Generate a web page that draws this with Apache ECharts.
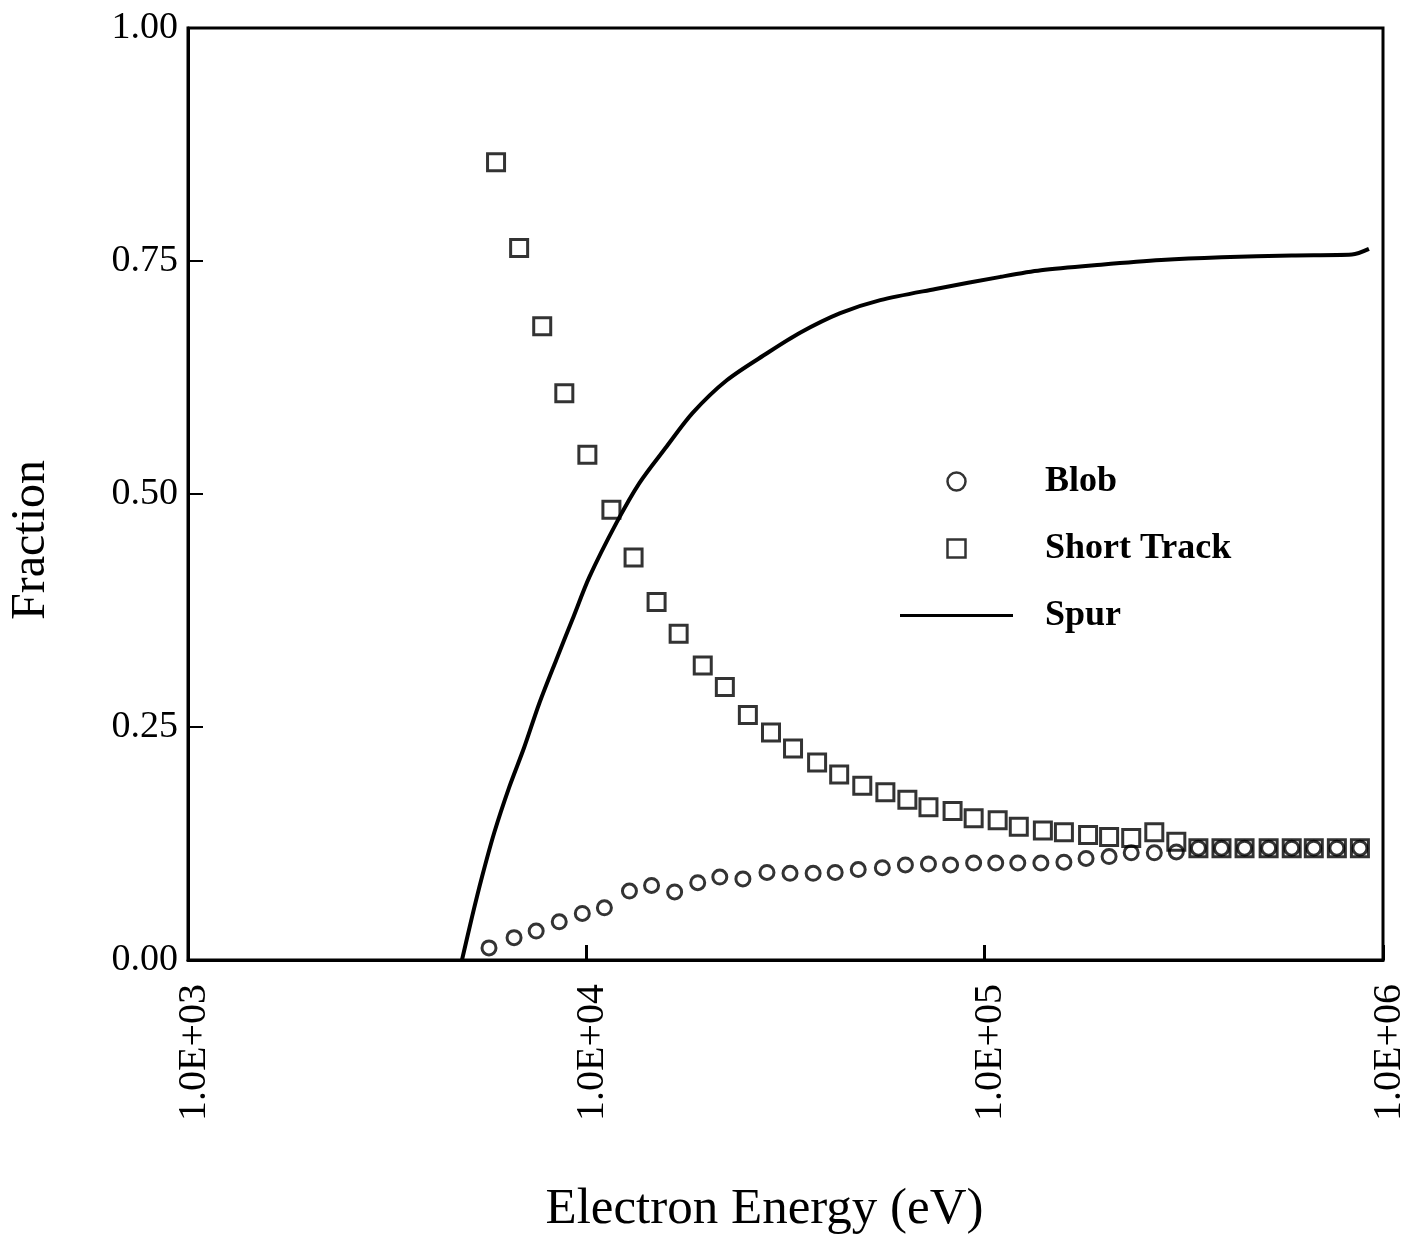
<!DOCTYPE html>
<html>
<head>
<meta charset="utf-8">
<script src="https://cdn.jsdelivr.net/npm/echarts@6/dist/echarts.min.js"></script>
<style>
  html, body { margin: 0; padding: 0; background: #fff; }
  #chart { width: 1409px; height: 1243px; }
</style>
</head>
<body>
<div id="chart"></div>
<script>
// electron energy (eV) for each plotted marker
const trackEnergy = [5934, 6781, 7749, 8805, 10060, 11560, 13140, 15010, 17050, 19600,
  22270, 25440, 29080, 33030, 37960, 43130, 49290, 56330, 63970, 72260,
  83070, 93830, 107800, 121800, 140000, 158100, 181800, 205300, 233300, 266600,
  302800, 344000, 393100, 449200, 516300, 590000, 670300, 765900, 875100]
const trackFraction = [0.856, 0.764, 0.680, 0.608, 0.542, 0.483, 0.432, 0.384, 0.350, 0.316,
  0.293, 0.263, 0.244, 0.227, 0.212, 0.199, 0.187, 0.180, 0.172, 0.164,
  0.160, 0.152, 0.150, 0.143, 0.139, 0.137, 0.134, 0.132, 0.131, 0.137,
  0.127, 0.120, 0.120, 0.120, 0.120, 0.120, 0.120, 0.120, 0.120]

const blobEnergy = [5697, 6585, 7483, 8551, 9770, 11100, 12830, 14580, 16660, 19040,
  21630, 24720, 28410, 32460, 37100, 42140, 48150, 55350, 63240, 72260,
  82120, 93830, 106600, 121100, 138400, 158100, 179700, 205300, 233300, 266600,
  302800, 344000, 393100, 449200, 516300, 590000, 670300, 765900, 875100]
const blobFraction = [0.013, 0.024, 0.031, 0.041, 0.050, 0.056, 0.074, 0.080, 0.073, 0.083,
  0.089, 0.087, 0.094, 0.093, 0.093, 0.094, 0.097, 0.099, 0.102, 0.103,
  0.102, 0.104, 0.104, 0.104, 0.104, 0.105, 0.109, 0.111, 0.115, 0.115,
  0.116, 0.120, 0.120, 0.120, 0.120, 0.120, 0.120, 0.120, 0.120]

const spurEnergy = [4873, 5163, 5470, 5866, 6398, 6980, 7613, 8403, 9220, 10180,
  11900, 13600, 15910, 18490, 22520, 28410, 34400, 43390, 54700, 75260,
  109700, 138400, 196000, 277500, 393100, 590000, 835500, 921900]
const spurFraction = [0.000, 0.046, 0.089, 0.136, 0.185, 0.228, 0.275, 0.322, 0.365, 0.411,
  0.469, 0.512, 0.551, 0.587, 0.622, 0.651, 0.673, 0.694, 0.708, 0.720,
  0.733, 0.740, 0.746, 0.751, 0.754, 0.756, 0.757, 0.763]

const xTickLabels = ['1.0E+03', '1.0E+04', '1.0E+05', '1.0E+06']
const yTickLabels = ['0.00', '0.25', '0.50', '0.75', '1.00']

const zip = (xs, ys) => xs.map((x, i) => [x, ys[i]])

const font = 'Liberation Serif'
const chart = echarts.init(document.getElementById('chart'))

chart.setOption({
  animation: false,
  backgroundColor: '#fff',
  grid: {
    left: 188,
    right: 26,
    top: 28,
    bottom: 283,
    outerBoundsMode: 'none',
    containLabel: false,
    show: true,
    borderColor: '#000',
    borderWidth: 3
  },
  legend: {
    orient: 'vertical',
    left: 895,
    top: 458,
    itemWidth: 113,
    itemHeight: 18,
    itemGap: 30,
    textStyle: {
      fontFamily: font,
      fontWeight: 'bold',
      fontSize: 36,
      lineHeight: 37,
      color: '#000',
      padding: [0, 0, 0, 27]
    },
    data: [
      { name: 'Blob', icon: 'circle', itemStyle: { color: 'rgba(0,0,0,0)', borderColor: '#000', borderWidth: 2.5 } },
      { name: 'Short Track', icon: 'path://M0,0L10,0L10,10L0,10Z', itemStyle: { color: 'rgba(0,0,0,0)', borderColor: '#000', borderWidth: 2.5 } },
      { name: 'Spur', icon: 'path://M0,0L113,0L113,3L0,3Z', itemStyle: { color: '#000', borderWidth: 0 } }
    ]
  },
  xAxis: {
    type: 'log',
    logBase: 10,
    min: 1000,
    max: 1000000,
    name: 'Electron Energy (eV)',
    nameLocation: 'middle',
    nameGap: 224,
    nameTextStyle: {
      fontFamily: font,
      fontSize: 51,
      color: '#000',
      padding: [0, 42, 0, 0]
    },
    axisLine: { lineStyle: { color: '#000', width: 3 } },
    axisTick: { inside: true, length: 15, lineStyle: { color: '#000', width: 3 } },
    minorTick: { show: false },
    splitLine: { show: false },
    axisLabel: {
      rotate: 90,
      margin: 24,
      fontFamily: font,
      fontSize: 40,
      lineHeight: 12,
      color: '#000',
      verticalAlign: 'top',
      formatter: v => xTickLabels[Math.round(Math.log10(v)) - 3]
    }
  },
  yAxis: {
    type: 'value',
    min: 0,
    max: 1,
    interval: 0.25,
    name: 'Fraction',
    nameLocation: 'middle',
    nameGap: 133,
    nameRotate: 90,
    nameTextStyle: {
      fontFamily: font,
      fontSize: 48,
      color: '#000',
      padding: [0, 92, 0, 0]
    },
    axisLine: { show: true, lineStyle: { color: '#000', width: 3 } },
    axisTick: { show: true, inside: true, length: 15, lineStyle: { color: '#000', width: 2 } },
    splitLine: { show: false },
    axisLabel: {
      margin: 10,
      fontFamily: font,
      fontSize: 38,
      color: '#000',
      formatter: (v, i) => yTickLabels[i]
    }
  },
  series: [
    {
      name: 'Blob',
      type: 'scatter',
      symbol: 'circle',
      symbolSize: 14,
      itemStyle: { color: 'rgba(0,0,0,0)', borderColor: '#000', borderWidth: 3 },
      data: zip(blobEnergy, blobFraction)
    },
    {
      name: 'Short Track',
      type: 'scatter',
      symbol: 'rect',
      symbolSize: 17,
      itemStyle: { color: 'rgba(0,0,0,0)', borderColor: '#000', borderWidth: 3 },
      data: zip(trackEnergy, trackFraction)
    },
    {
      name: 'Spur',
      type: 'line',
      symbol: 'none',
      smooth: 0.3,
      color: '#000',
      lineStyle: { color: '#000', width: 4 },
      data: zip(spurEnergy, spurFraction)
    }
  ]
})
</script>
</body>
</html>
